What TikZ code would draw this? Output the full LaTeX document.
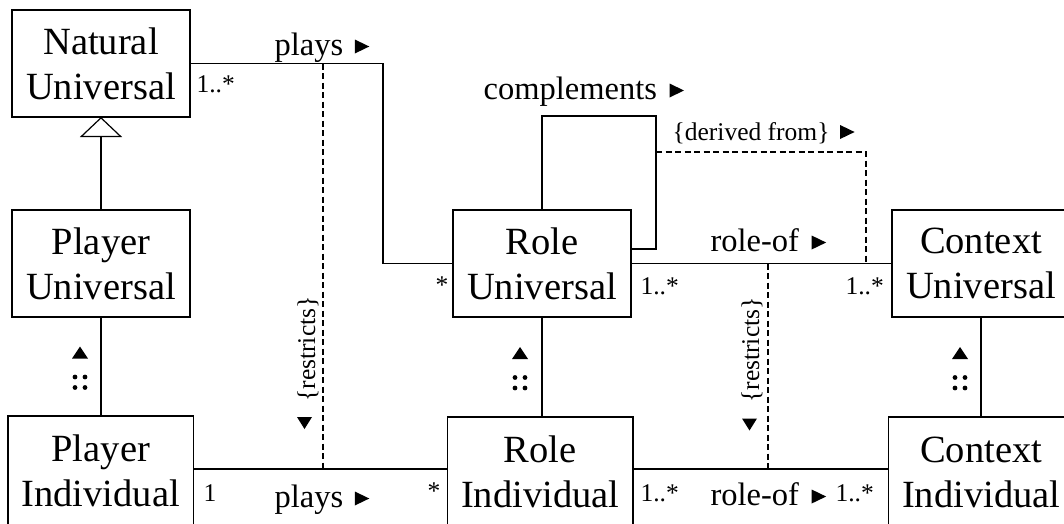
\documentclass[tikz,border=0pt]{standalone}
\usepackage{fontspec}
\setmainfont{Liberation Serif}
\usetikzlibrary{calc,arrows.meta}
\begin{document}
\begin{tikzpicture}[x=1pt,y=-1pt,line width=1.2pt,
  classbox/.style={draw,align=center,inner sep=0pt,outer sep=0pt,anchor=north west,
    minimum height=107pt,font=\fontsize{38.5}{45}\selectfont},
  univ/.style={classbox,minimum width=178pt},
  indiv/.style={classbox,minimum width=185.5pt,minimum height=110pt},
  assoc/.style={font=\fontsize{32.5}{38}\selectfont,inner sep=0pt,anchor=base west},
  mult/.style={font=\fontsize{25.5}{29}\selectfont,inner sep=0pt,anchor=base west},
  constr/.style={font=\fontsize{25.5}{30}\selectfont,inner sep=0pt},
  dep/.style={dash pattern=on 6pt off 3.5pt},
  rtri/.pic={\fill (0,-7) -- (14.5,0) -- (0,7) -- cycle;},
  dtri/.pic={\fill (-7.5,-6) -- (7.5,-6) -- (0,6) -- cycle;},
  instmark/.pic={
    \fill (-8,-8) -- (0,-20) -- (8,-8) -- cycle;
    \foreach \dx in {-5,5} \foreach \dy in {10.5,21} \fill (\dx,\dy) circle (2.4pt);}
]
\useasboundingbox (0,0) rectangle (1064,523);
\clip (0,0) rectangle (1064,523);

% classes
\node[univ]  (NU) at (12,10)    {Natural\\Universal};
\node[univ]  (PU) at (12,210)   {Player\\Universal};
\node[indiv] (PI) at (8,416)    {Player\\Individual};
\node[univ]  (RU) at (453,210)  {Role\\Universal};
\node[indiv] (RI) at (447.5,417) {Role\\Individual};
\node[univ]  (CU) at (892,210)  {Context\\Universal};
\node[indiv] (CI) at (888.5,417) {Context\\Individual};

% helper coordinates for routing
\coordinate (yInd) at (0,469);
\coordinate (plJ)  at (383,0);
\coordinate (cmpTR) at (656,116);
\coordinate (dfA) at (656,152);
\coordinate (dfB) at (866,0);
\coordinate (rA) at (323,0);
\coordinate (rB) at (768,0);

% generalization
\draw[-{Triangle[open,length=20pt,width=42pt]}] (PU.north) -- (NU.south);

% instantiation links
\draw (PU.south) -- (PU.south |- PI.north);
\draw (RU.south) -- (RU.south |- RI.north);
\draw (CU.south) -- (CU.south |- CI.north);
\pic at ($(PU.south)!0.5!(PU.south |- PI.north)+(-21,0)$) {instmark};
\pic at ($(RU.south)!0.5!(RU.south |- RI.north)+(-22,0)$) {instmark};
\pic at ($(CU.south)!0.5!(CU.south |- CI.north)+(-21,0)$) {instmark};

% associations between universals
\draw (NU.east) -| (plJ |- RU.west) -- (RU.west);
\draw (RU.north) |- (cmpTR) |- ($(RU.north east)+(0,39)$);
\draw (RU.east) -- (CU.west);
\draw[dep] (dfA) -| (dfB |- RU.east);

% associations between individuals
\draw (PI.east |- yInd) -- (RI.west |- yInd);
\draw (RI.east |- yInd) -- (CI.west |- yInd);

% restrictions
\draw[dep] (rA |- NU.east) -- (rA |- yInd);
\draw[dep] (rB |- RU.east) -- (rB |- yInd);
\node[constr,rotate=90] (rsA) at (308,349) {\{restricts\}};
\node[constr,rotate=90] (rsB) at (752,350) {\{restricts\}};
\pic at (304.5,423) {dtri};
\pic at (749.5,424.5) {dtri};

% association names
\node[assoc] (lpU) at (274,55)  {plays};
\node[assoc] (lcm) at (483,99)  {complements};
\node[constr,anchor=base west] (ldf) at (672,140) {\{derived from\}};
\node[assoc] (lrU) at (710,251) {role-of};
\node[assoc] (lpI) at (274,507) {plays};
\node[assoc] (lrI) at (710,505) {role-of};
\pic at ($(lpU.base east)+(11,-8.5)$) {rtri};
\pic at ($(lcm.base east)+(12,-8.5)$) {rtri};
\pic at ($(ldf.base east)+(10,-8)$) {rtri};
\pic at ($(lrU.base east)+(12,-8.5)$) {rtri};
\pic at ($(lpI.base east)+(11,-8.5)$) {rtri};
\pic at ($(lrI.base east)+(12,-8.5)$) {rtri};

% multiplicities
\node[mult] (m1) at (196,92) {1..*};
\node[mult] (m2) at (435,293)  {*};
\node[mult] (m3) at (640,294) {1..*};
\node[mult] (m4) at (845,294) {1..*};
\node[mult] (m5) at (203,501) {1};
\node[mult] (m6) at (427,499)  {*};
\node[mult] (m7) at (640,501) {1..*};
\node[mult] (m8) at (835,501) {1..*};
\end{tikzpicture}
\end{document}
